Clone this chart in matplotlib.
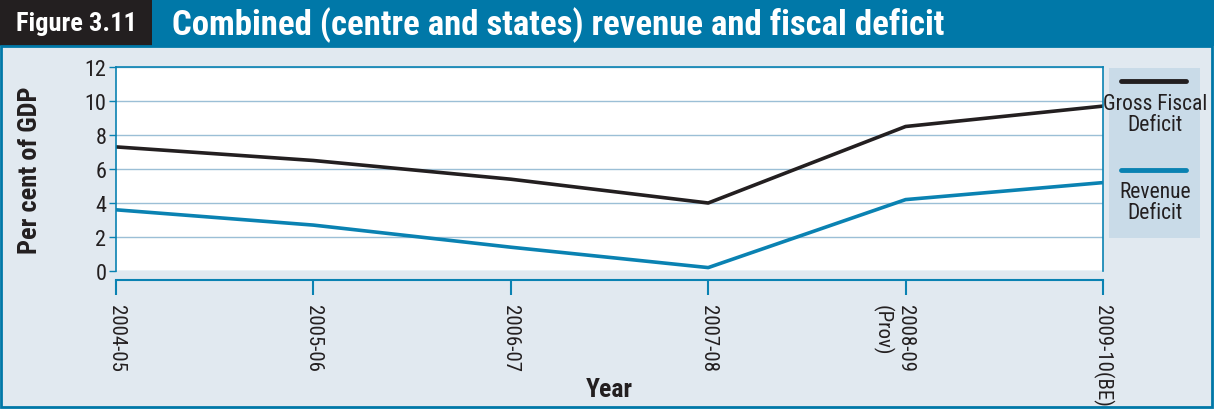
import matplotlib
matplotlib.use("Agg")
import matplotlib.pyplot as plt
from matplotlib.patches import Rectangle
from matplotlib.lines import Line2D

years = ["2004-05", "2005-06", "2006-07", "2007-08", "2008-09", "2009-10(BE)"]
gross_fiscal_deficit = [7.3, 6.5, 5.4, 4.0, 8.5, 9.7]
revenue_deficit = [3.6, 2.7, 1.4, 0.2, 4.2, 5.2]
series_names = ["Gross Fiscal\nDeficit", "Revenue\nDeficit"]
y_ticks = [0, 2, 4, 6, 8, 10, 12]

NARROW = ["Roboto Condensed", "Archivo Narrow", "DejaVu Sans"]
BLUE = "#0078a8"
DARK = "#231f20"
LINE_BLUE = "#0a82b2"
BODY = "#e1e9f0"
GRID = "#9bbfd6"
LEGEND_BG = "#c9dbe8"
TEXT = "#231f20"

W, H = 1214, 410
fig = plt.figure(figsize=(W / 100, H / 100), dpi=100)
fig.patch.set_facecolor(BODY)


def fx(px):
    return px / W


def fy(py):
    return 1 - py / H


# title bar
fig.add_artist(Rectangle((0, fy(47)), 1, 47 / H, transform=fig.transFigure,
                         facecolor=BLUE, edgecolor="none"))
fig.add_artist(Rectangle((0, fy(47)), fx(152), 47 / H, transform=fig.transFigure,
                         facecolor=DARK, edgecolor="none"))
fig.text(fx(76), fy(24), "Figure 3.11", color="white", fontsize=19,
         fontweight="bold", family=NARROW, ha="center", va="center")
fig.text(fx(172), fy(25), "Combined (centre and states) revenue and fiscal deficit",
         color="white", fontsize=25, fontweight="bold", family=NARROW,
         ha="left", va="center")
# outer frame below the title bar
fig.add_artist(Rectangle((fx(1.5), fy(408)), fx(1210), (408 - 47) / H,
                         transform=fig.transFigure, facecolor="none",
                         edgecolor=BLUE, linewidth=2))

ax = fig.add_axes([fx(116), fy(272), fx(1103 - 116), (272 - 68) / H])
ax.set_facecolor("white")
x = list(range(len(years)))
ax.plot(x, gross_fiscal_deficit, color=DARK, linewidth=2.6, solid_capstyle="butt")
ax.plot(x, revenue_deficit, color=LINE_BLUE, linewidth=2.6, solid_capstyle="butt")

ax.set_xlim(0, len(years) - 1)
ax.set_ylim(0, 12)
ax.set_yticks(y_ticks)
ax.set_yticklabels([str(v) for v in y_ticks], family=NARROW, fontsize=16, color=TEXT)
for v in y_ticks:
    ax.axhline(v, color=GRID, linewidth=1, zorder=0)

for side in ["top", "right", "left"]:
    ax.spines[side].set_color(LINE_BLUE)
    ax.spines[side].set_linewidth(1.2)
ax.spines["bottom"].set_position(("outward", 6.5))
ax.spines["bottom"].set_color(LINE_BLUE)
ax.spines["bottom"].set_linewidth(1.5)
ax.tick_params(axis="y", length=5, width=1, color=LINE_BLUE, pad=2)
ax.tick_params(axis="x", length=11, width=1.5, color=LINE_BLUE, pad=6)

ax.set_xticks(x)
ax.set_xticklabels(years, rotation=-90, family=NARROW, fontsize=15,
                   color=TEXT, va="top", ha="center")
# second line under the provisional year
ax.annotate("(Prov)", xy=(years.index("2008-09"), 0), xycoords=("data", "axes fraction"),
            xytext=(-17, -24), textcoords="offset points", rotation=-90,
            family=NARROW, fontsize=15, color=TEXT, ha="center", va="top")

fig.text(fx(30), fy(170), "Per cent of GDP", rotation=90, family=NARROW,
         fontsize=19, fontweight="bold", color=TEXT, ha="center", va="center")
fig.text(fx(609), fy(390), "Year", family=NARROW, fontsize=18.5,
         fontweight="bold", color=TEXT, ha="center", va="center")

# legend panel
fig.add_artist(Rectangle((fx(1109), fy(239)), fx(91), (239 - 69) / H,
                         transform=fig.transFigure, facecolor=LEGEND_BG,
                         edgecolor="none"))
legend_items = [(series_names[0], DARK, 82, 115), (series_names[1], LINE_BLUE, 171, 203)]
for label, color, line_y, text_y in legend_items:
    fig.add_artist(Line2D([fx(1121), fx(1186)], [fy(line_y), fy(line_y)],
                          transform=fig.transFigure, color=color, linewidth=3.5,
                          solid_capstyle="round"))
    fig.text(fx(1155), fy(text_y), label, family=NARROW, fontsize=15.5,
             color=TEXT, ha="center", va="center", linespacing=1.0)

fig.savefig("out.png", dpi=100, facecolor=BODY)
